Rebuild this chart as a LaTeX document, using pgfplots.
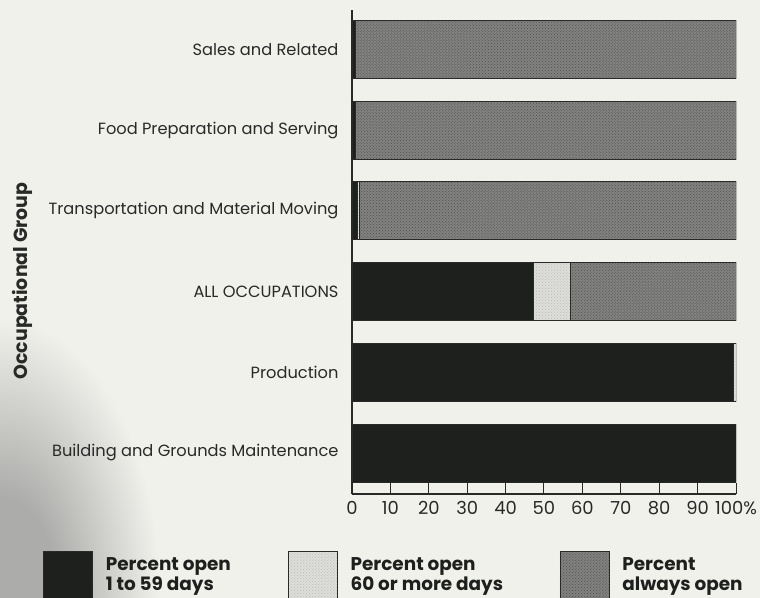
\documentclass[border=0pt]{standalone}
\usepackage{pgfplots}
\pgfplotsset{compat=1.18}
\usepackage{fontspec}
\setmainfont{Poppins}
\usetikzlibrary{patterns}
\definecolor{bg}{RGB}{241,241,236}
\definecolor{cornergray}{RGB}{172,172,170}
\definecolor{barblack}{RGB}{30,32,30}
\definecolor{barlight}{RGB}{222,222,218}
\definecolor{barlightdot}{RGB}{185,185,182}
\definecolor{bargray}{RGB}{130,130,128}
\definecolor{bargraydot}{RGB}{78,78,76}
\definecolor{axiscol}{RGB}{40,42,40}
\pgfdeclareradialshading{corner}{\pgfpoint{0bp}{0bp}}{color(0bp)=(cornergray); color(9bp)=(cornergray); color(25bp)=(bg); color(50bp)=(bg)}
\pgfplotstableread{
y black light gray
0 100 0 0
1 99.2 0.8 0
2 47.3 9.6 43.1
3 1.5 0.5 98
4 0.8 0 99.2
5 0.8 0 99.2
}\datatable
\begin{document}
\begin{tikzpicture}
\fill[bg] (-352bp,-104bp) rectangle (408bp,494bp);
\begin{scope}
\clip (-352bp,-104bp) rectangle (408bp,494bp);
\shade[shading=corner] (-352bp,-104bp) ellipse (160bp and 280bp);
\end{scope}
\begin{axis}[
  scale only axis,
  width=384bp, height=484bp,
  xbar stacked,
  bar width=58bp,
  xmin=0, xmax=100,
  ymin=-0.508, ymax=5.489,
  axis x line=bottom, axis y line=left,
  axis line style={-, line width=1.3bp, axiscol},
  xtick={0,10,...,100},
  xticklabels={0,10,20,30,40,50,60,70,80,90,100\%},
  tick align=inside,
  major tick length=11bp,
  x tick style={line width=1bp, axiscol},
  ytick={0,1,2,3,4,5},
  yticklabels={Building and Grounds Maintenance, Production, ALL OCCUPATIONS, Transportation and Material Moving, Food Preparation and Serving, Sales and Related},
  y tick style={draw=none},
  yticklabel style={font=\fontsize{16.3}{19}\selectfont, text=axiscol, xshift=-10bp},
  xticklabel style={font=\fontsize{18}{21}\selectfont, text=axiscol, inner sep=1bp, yshift=-6bp},
  /pgf/number format/assume math mode=true,
  ylabel={\bfseries Occupational Group},
  ylabel style={font=\fontsize{19}{22}\selectfont, text=axiscol, at={(axis description cs:-0.859,0.44)}, anchor=center, rotate=0},
  legend style={at={(axis description cs:-0.8047,-0.1183)}, anchor=north west, draw=none, fill=none, inner sep=0pt, outer sep=0pt,
    nodes={inner sep=0pt, align=left, font=\bfseries\fontsize{18.5}{20.5}\selectfont, text=barblack},
    /tikz/every odd column/.style={column sep=13bp},
    /tikz/every even column/.style={column sep=10bp}},
  legend columns=3,
  legend cell align=left,
  legend image code/.code={\draw[#1, line width=0.8bp] (0bp,-27bp) rectangle (49bp,23bp);},
  every axis plot/.append style={draw=axiscol, line width=0.8bp, bar shift=0pt},
]
\addplot[fill=barblack] table[x=black, y=y] {\datatable};
\addplot[fill=barlight, postaction={pattern=crosshatch dots, pattern color=barlightdot}] table[x=light, y=y] {\datatable};
\addplot[fill=bargray, postaction={pattern=crosshatch dots, pattern color=bargraydot}] table[x=gray, y=y] {\datatable};
\legend{\makebox[172bp][l]{Percent open}\\1 to 59 days, \makebox[199bp][l]{Percent open}\\60 or more days, Percent\\always open}
\end{axis}
\pgfresetboundingbox
\useasboundingbox (-352bp,-104bp) rectangle (408bp,494bp);
\end{tikzpicture}
\end{document}
